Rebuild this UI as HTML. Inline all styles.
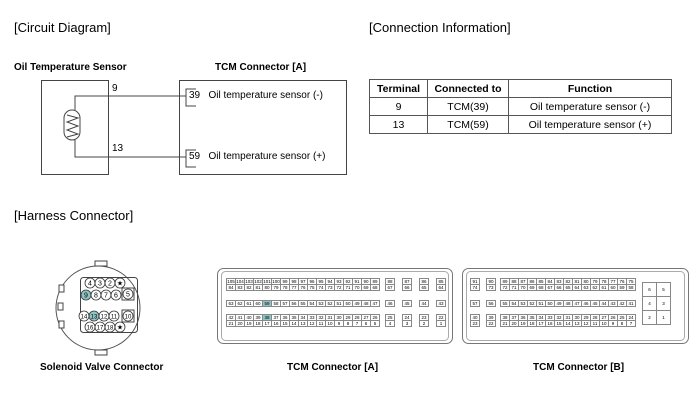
<!DOCTYPE html>
<html><head><meta charset="utf-8"><style>
body{margin:0;width:700px;height:408px;background:#fff;position:relative;overflow:hidden;font-family:"Liberation Sans",Arial,sans-serif;color:#000}
.a{position:absolute;white-space:nowrap}
.r{position:absolute;display:flex}
.r span{width:10px;height:7px;border:1px solid #888;box-sizing:border-box;margin-left:-1px;font-size:4.5px;line-height:5px;text-align:center;background:#fff}
.r span.h{background:#8fc4c4}
.w span{width:12px;height:9px;line-height:7px}
table{border-collapse:collapse;position:absolute;left:369px;top:79px;font-size:10.5px}
td{border:1px solid #555;height:17px;padding:0;text-align:center}
</style></head><body>
<div class="a" style="left:14px;top:20px;font-size:13px">[Circuit Diagram]</div>
<div class="a" style="left:369px;top:20px;font-size:13px">[Connection Information]</div>
<div class="a" style="left:14px;top:208px;font-size:13px">[Harness Connector]</div>
<div class="a" style="left:14px;top:62px;font-size:10px;font-weight:bold">Oil Temperature Sensor</div>
<div class="a" style="left:215px;top:62px;font-size:10px;font-weight:bold">TCM Connector [A]</div>
<svg class="a" style="left:0;top:0" width="700" height="408">
<g fill="none" stroke="#444" stroke-width="1">
<rect x="41.5" y="80.5" width="67" height="94"/>
<rect x="179.5" y="80.5" width="167" height="94"/>
<polyline points="75,110 75,96 186,96"/>
<polyline points="75,140 75,157 186,157"/>
<polyline points="196,89 186,89 186,106 196,106"/>
<polyline points="196,150 186,150 186,167 196,167"/>
<rect x="64" y="110" width="16" height="30" rx="8"/>
<polyline points="67,115 78,118 67,122 78,126 67,130 78,134 67,137"/>
<circle cx="98" cy="308" r="42" stroke="#555"/>
<rect x="80.5" y="277.5" width="57" height="55" rx="3"/>
<rect x="95" y="261" width="12" height="5" fill="#fff"/>
<rect x="95" y="350" width="12" height="5" fill="#fff"/>
<rect x="59" y="285" width="5" height="7" fill="#fff"/>
<rect x="58" y="303" width="5" height="7" fill="#fff"/>
<rect x="59" y="321" width="5" height="7" fill="#fff"/>
<rect x="122" y="288" width="12" height="12"/>
<rect x="122" y="310" width="12" height="12"/>
<rect x="217.5" y="268.5" width="235" height="75" rx="6" stroke="#777"/>
<rect x="221.5" y="271.5" width="227" height="69" rx="4" stroke="#aaa"/>
<rect x="462.5" y="268.5" width="226" height="75" rx="6" stroke="#777"/>
<rect x="466.5" y="271.5" width="218" height="69" rx="4" stroke="#aaa"/>
</g>
<g font-size="6.5" text-anchor="middle" stroke="#333" stroke-width=".8">
<circle cx="90" cy="283" r="5" fill="#fff"/><circle cx="100" cy="283" r="5" fill="#fff"/><circle cx="110" cy="283" r="5" fill="#fff"/><circle cx="120" cy="283" r="5" fill="#fff"/>
<circle cx="86" cy="295" r="5" fill="#8fc4c4"/><circle cx="96" cy="295" r="5" fill="#fff"/><circle cx="106" cy="295" r="5" fill="#fff"/><circle cx="116" cy="295" r="5" fill="#fff"/><circle cx="128" cy="294" r="5" fill="#fff"/>
<circle cx="84" cy="316" r="5" fill="#fff"/><circle cx="94" cy="316" r="5" fill="#8fc4c4"/><circle cx="104" cy="316" r="5" fill="#fff"/><circle cx="114" cy="316" r="5" fill="#fff"/><circle cx="128" cy="316" r="5" fill="#fff"/>
<circle cx="90" cy="327" r="5" fill="#fff"/><circle cx="100" cy="327" r="5" fill="#fff"/><circle cx="110" cy="327" r="5" fill="#fff"/><circle cx="120" cy="327" r="5" fill="#fff"/>
</g>
<g font-size="7" text-anchor="middle" fill="#000">
<text x="90" y="285.5">4</text><text x="100" y="285.5">3</text><text x="110" y="285.5">2</text><text x="120" y="285.5">★</text>
<text x="86" y="297.5">9</text><text x="96" y="297.5">8</text><text x="106" y="297.5">7</text><text x="116" y="297.5">6</text><text x="128" y="296.5">5</text>
<text x="84" y="318.5" font-size="6">14</text><text x="94" y="318.5" font-size="6">13</text><text x="104" y="318.5" font-size="6">12</text><text x="114" y="318.5" font-size="6">11</text><text x="128" y="318.5" font-size="6">10</text>
<text x="90" y="329.5" font-size="6">16</text><text x="100" y="329.5" font-size="6">17</text><text x="110" y="329.5" font-size="6">18</text><text x="120" y="329.5">★</text>
</g>
</svg>
<div class="a" style="left:112px;top:83px;font-size:10px">9</div>
<div class="a" style="left:112px;top:143px;font-size:10px">13</div>
<div class="a" style="left:189px;top:90px;font-size:10px">39&nbsp;&nbsp; Oil temperature sensor (-)</div>
<div class="a" style="left:189px;top:151px;font-size:10px">59&nbsp;&nbsp; Oil temperature sensor (+)</div>
<table>
<tr style="font-weight:bold"><td style="width:57px">Terminal</td><td style="width:80px">Connected to</td><td style="width:162px">Function</td></tr>
<tr><td>9</td><td>TCM(39)</td><td>Oil temperature sensor (-)</td></tr>
<tr><td>13</td><td>TCM(59)</td><td>Oil temperature sensor (+)</td></tr>
</table>
<!-- TCM A -->
<div class="r" style="left:227px;top:278px"><span>105</span><span>104</span><span>103</span><span>102</span><span>101</span><span>100</span><span>99</span><span>98</span><span>97</span><span>96</span><span>95</span><span>94</span><span>93</span><span>92</span><span>91</span><span>90</span><span>89</span></div>
<div class="r" style="left:227px;top:284px"><span>84</span><span>83</span><span>82</span><span>81</span><span>80</span><span>79</span><span>78</span><span>77</span><span>76</span><span>75</span><span>74</span><span>73</span><span>72</span><span>71</span><span>70</span><span>69</span><span>68</span></div>
<div class="r" style="left:227px;top:300px"><span>63</span><span>62</span><span>61</span><span>60</span><span class="h">59</span><span>58</span><span>57</span><span>56</span><span>55</span><span>54</span><span>53</span><span>52</span><span>51</span><span>50</span><span>49</span><span>48</span><span>47</span></div>
<div class="r" style="left:227px;top:314px"><span>42</span><span>41</span><span>40</span><span>39</span><span class="h">38</span><span>37</span><span>36</span><span>35</span><span>34</span><span>33</span><span>32</span><span>31</span><span>30</span><span>29</span><span>28</span><span>27</span><span>26</span></div>
<div class="r" style="left:227px;top:320px"><span>21</span><span>20</span><span>19</span><span>18</span><span>17</span><span>16</span><span>15</span><span>14</span><span>13</span><span>12</span><span>11</span><span>10</span><span>9</span><span>8</span><span>7</span><span>6</span><span>5</span></div>
<div class="r" style="left:386px;top:278px;gap:8px"><span>88</span><span>87</span><span>86</span><span>85</span></div>
<div class="r" style="left:386px;top:284px;gap:8px"><span>67</span><span>66</span><span>65</span><span>64</span></div>
<div class="r" style="left:386px;top:300px;gap:8px"><span>46</span><span>45</span><span>44</span><span>43</span></div>
<div class="r" style="left:386px;top:314px;gap:8px"><span>25</span><span>24</span><span>23</span><span>22</span></div>
<div class="r" style="left:386px;top:320px;gap:8px"><span>4</span><span>3</span><span>2</span><span>1</span></div>
<!-- TCM B -->
<div class="r" style="left:471px;top:278px;gap:7px"><span>91</span><span>90</span></div>
<div class="r" style="left:471px;top:284px;gap:7px"><span>74</span><span>73</span></div>
<div class="r" style="left:471px;top:300px;gap:7px"><span>57</span><span>56</span></div>
<div class="r" style="left:471px;top:314px;gap:7px"><span>40</span><span>39</span></div>
<div class="r" style="left:471px;top:320px;gap:7px"><span>23</span><span>22</span></div>
<div class="r" style="left:501px;top:278px"><span>89</span><span>88</span><span>87</span><span>86</span><span>85</span><span>84</span><span>83</span><span>82</span><span>81</span><span>80</span><span>79</span><span>78</span><span>77</span><span>76</span><span>75</span></div>
<div class="r" style="left:501px;top:284px"><span>72</span><span>71</span><span>70</span><span>69</span><span>68</span><span>67</span><span>66</span><span>65</span><span>64</span><span>63</span><span>62</span><span>61</span><span>60</span><span>59</span><span>58</span></div>
<div class="r" style="left:501px;top:300px"><span>55</span><span>54</span><span>53</span><span>52</span><span>51</span><span>50</span><span>49</span><span>48</span><span>47</span><span>46</span><span>45</span><span>44</span><span>43</span><span>42</span><span>41</span></div>
<div class="r" style="left:501px;top:314px"><span>38</span><span>37</span><span>36</span><span>35</span><span>34</span><span>33</span><span>32</span><span>31</span><span>30</span><span>29</span><span>28</span><span>27</span><span>26</span><span>25</span><span>24</span></div>
<div class="r" style="left:501px;top:320px"><span>21</span><span>20</span><span>19</span><span>18</span><span>17</span><span>16</span><span>15</span><span>14</span><span>13</span><span>12</span><span>11</span><span>10</span><span>9</span><span>8</span><span>7</span></div>
<div class="r" style="left:643px;top:282px;flex-direction:column"><div style="display:flex"><span style="width:15px;height:15px;line-height:13px">6</span><span style="width:15px;height:15px;line-height:13px">5</span></div><div style="display:flex;margin-top:-1px"><span style="width:15px;height:15px;line-height:13px">4</span><span style="width:15px;height:15px;line-height:13px">3</span></div><div style="display:flex;margin-top:-1px"><span style="width:15px;height:15px;line-height:13px">2</span><span style="width:15px;height:15px;line-height:13px">1</span></div></div>
<div class="a" style="left:40px;top:362px;font-size:10px;font-weight:bold">Solenoid Valve Connector</div>
<div class="a" style="left:287px;top:362px;font-size:10px;font-weight:bold">TCM Connector [A]</div>
<div class="a" style="left:533px;top:362px;font-size:10px;font-weight:bold">TCM Connector [B]</div>
</body></html>
